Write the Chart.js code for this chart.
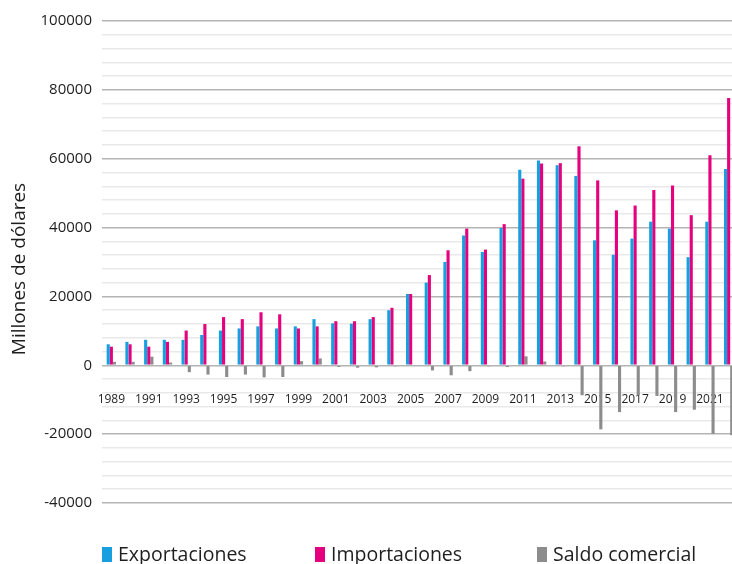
<!DOCTYPE html>
<html>
<head>
<meta charset="utf-8">
<script src="https://cdn.jsdelivr.net/npm/chart.js@4.4.1/dist/chart.umd.min.js"></script>
<style>
html,body{margin:0;padding:0;background:#fff;overflow:hidden;width:732px;height:564px;position:relative}
#wrap{position:absolute;left:0;top:0;width:740px;height:564px}
#legend{position:absolute;left:0;top:542px;width:732px;height:24px;font-family:'Open Sans',sans-serif;font-size:19.5px;color:#1e1e1e}
.item{position:absolute;top:0;height:24px;white-space:nowrap}
.sw{position:absolute;left:0;top:5px;width:10px;height:15px}
.tx{position:absolute;left:16px;top:0;line-height:24px}
</style>
</head>
<body>
<div id="wrap"><canvas id="c" width="740" height="564"></canvas></div>
<div id="legend"></div>
<script>
const years = ['1989','1990','1991','1992','1993','1994','1995','1996','1997','1998','1999','2000','2001','2002','2003','2004','2005','2006','2007','2008','2009','2010','2011','2012','2013','2014','2015','2016','2017','2018','2019','2020','2021','2022'];
const exportaciones = [6100,6800,7400,7400,7400,8800,10100,10700,11300,10700,11300,13400,12200,12100,13400,16000,20700,24000,30000,37700,32900,39900,56800,59500,58100,55000,36300,32100,36800,41700,39700,31400,41700,57000];
const importaciones = [5400,6100,5400,6800,10100,12000,14000,13400,15400,14800,10700,11300,12800,12800,14000,16700,20700,26200,33400,39700,33600,41000,54200,58600,58700,63600,53700,45000,46400,50900,52200,43600,61000,77600];
const saldo = [1000,1000,2500,800,-2000,-2700,-3400,-2700,-3500,-3400,1200,2000,-500,-700,-600,-300,-200,-1500,-2900,-1700,-300,-500,2600,1100,-300,-8700,-18600,-13600,-8700,-8900,-13600,-12900,-19900,-20300];
const shownYearLabels = ['1989','1991','1993','1995','1997','1999','2001','2003','2005','2007','2009','2011','2013','2015','2017','2019','2021'];
const yTickLabels = [-40000,-20000,0,20000,40000,60000,80000,100000];
const yAxisTitle = 'Millones de dólares';
const seriesColors = ['#189fe0','#e5007e','#8c8c8c'];
const legendX = [102,315,537];

const yTitlePlugin = {
  id: 'yTitle',
  afterDraw(chart) {
    const ctx = chart.ctx;
    ctx.save();
    ctx.translate(19.4, 269);
    ctx.rotate(-Math.PI / 2);
    ctx.font = '19px "Open Sans"';
    ctx.fillStyle = '#1e1e1e';
    ctx.textAlign = 'center';
    ctx.textBaseline = 'middle';
    ctx.fillText(yAxisTitle, 0, 0);
    ctx.restore();
  }
};

const chart = new Chart(document.getElementById('c'), {
  type: 'bar',
  data: {
    labels: years,
    datasets: [
      {label:'Exportaciones', data:exportaciones, backgroundColor:seriesColors[0]},
      {label:'Importaciones', data:importaciones, backgroundColor:seriesColors[1]},
      {label:'Saldo comercial', data:saldo, backgroundColor:seriesColors[2]}
    ]
  },
  plugins: [yTitlePlugin],
  options: {
    responsive: false,
    animation: false,
    layout: {padding: {left:0, right:2, top:21, bottom:61}},
    datasets: {bar: {categoryPercentage:0.5, barPercentage:1.0}},
    plugins: {legend:{display:false}, tooltip:{enabled:false}},
    scales: {
      x: {
        position: {y: -7800},
        grid: {display:false, drawTicks:false},
        border: {display:false},
        ticks: {
          autoSkip:false, maxRotation:0, minRotation:0, padding:0,
          font:{family:'Open Sans', size:12}, color:'#1e1e1e',
          callback: (v, i) => shownYearLabels.includes(years[i]) ? years[i] : ''
        },
        afterFit: s => { s.height = 0; s.paddingLeft = 0; s.paddingRight = 0; }
      },
      y: {
        min: yTickLabels[0],
        max: yTickLabels[yTickLabels.length-1],
        grid: {
          drawTicks:false,
          color: c => (c.tick && yTickLabels.includes(c.tick.value)) ? '#b4b4b4' : '#e9e9e9',
          lineWidth: 1.5
        },
        border: {display:false},
        ticks: {
          stepSize: 4000, autoSkip:false, padding:10,
          font:{family:'Open Sans', size:15}, color:'#1e1e1e',
          callback: v => yTickLabels.includes(v) ? String(v) : ''
        },
        afterFit: s => { s.width = 102; }
      }
    }
  }
});

const lg = document.getElementById('legend');
chart.data.datasets.forEach((ds, i) => {
  const it = document.createElement('div');
  it.className = 'item';
  it.style.left = legendX[i] + 'px';
  const sw = document.createElement('span');
  sw.className = 'sw';
  sw.style.background = ds.backgroundColor;
  const tx = document.createElement('span');
  tx.className = 'tx';
  tx.textContent = ds.label;
  it.appendChild(sw); it.appendChild(tx);
  lg.appendChild(it);
});
</script>
</body>
</html>
